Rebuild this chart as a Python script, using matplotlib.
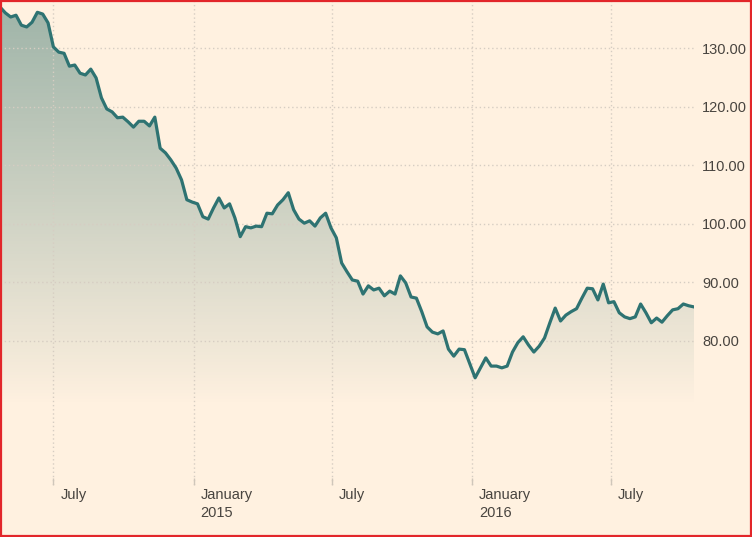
import numpy as np
import pandas as pd
import matplotlib
matplotlib.use('Agg')
import matplotlib.pyplot as plt
import matplotlib.dates as mdates
import matplotlib.transforms as mtransforms
from matplotlib.patches import Rectangle

# weekly index values
start_date = '2014-04-22'
values = [
    137.0, 136.0, 135.3, 135.6, 133.9, 133.6, 134.4, 136.1, 135.8, 134.3,
    130.2, 129.3, 129.1, 126.9, 127.1, 125.7, 125.4, 126.4, 124.9, 121.5,
    119.6, 119.1, 118.1, 118.2, 117.4, 116.5, 117.5, 117.5, 116.7, 118.2,
    112.9, 112.1, 110.9, 109.5, 107.5, 104.1, 103.7, 103.4, 101.2, 100.8,
    102.7, 104.4, 102.7, 103.4, 101.0, 97.8, 99.5, 99.3, 99.6, 99.5,
    101.8, 101.7, 103.2, 104.1, 105.3, 102.4, 100.8, 100.1, 100.5, 99.6,
    101.0, 101.8, 99.3, 97.6, 93.3, 91.8, 90.4, 90.2, 88.0, 89.4,
    88.7, 89.0, 87.7, 88.5, 88.0, 91.1, 89.9, 87.5, 87.3, 85.0,
    82.4, 81.5, 81.2, 81.7, 78.6, 77.4, 78.6, 78.5, 76.1, 73.7,
    75.4, 77.1, 75.7, 75.7, 75.4, 75.7, 78.1, 79.7, 80.7, 79.3,
    78.1, 79.1, 80.5, 83.1, 85.6, 83.4, 84.4, 85.0, 85.5, 87.3,
    89.0, 88.9, 87.0, 89.7, 86.5, 86.7, 84.8, 84.1, 83.8, 84.1,
    86.3, 84.8, 83.1, 83.9, 83.2, 84.3, 85.3, 85.5, 86.3, 86.0,
    85.8,
]
dates = pd.date_range(start_date, periods=len(values), freq='7D')

tick_dates = pd.to_datetime(['2014-07-01', '2015-01-01', '2015-07-01', '2016-01-01', '2016-07-01'])
tick_labels = ['July', 'January\n2015', 'July', 'January\n2016', 'July']
y_ticks = [80, 90, 100, 110, 120, 130]

bg = '#fff1e0'
line_color = '#2e7372'
text_color = '#48443f'
grid_color = '#d6cdc2'
y_min, y_max = 55.4, 138.2

plt.rcParams['font.family'] = ['Liberation Sans', 'DejaVu Sans']

fig = plt.figure(figsize=(7.52, 5.37), dpi=100, facecolor=bg)
ax = fig.add_axes([0, 1 - 485 / 537, 694 / 752, 485 / 537])
ax.set_facecolor(bg)

# gradient fill under the line, fading out near the 70 level
poly = ax.fill_between(dates, values, y_min, color='none', lw=0)
ys = np.linspace(y_max, y_min, 300)
alpha = np.clip((ys - 69) / (138 - 69), 0, 1) ** 0.95 * 0.46
img = np.zeros((300, 1, 4))
img[..., 0] = 0.17
img[..., 1] = 0.42
img[..., 2] = 0.40
img[..., 3] = alpha[:, None]
x0 = mdates.date2num(dates[0])
x1 = mdates.date2num(dates[-1])
im = ax.imshow(img, extent=[x0, x1, y_min, y_max], aspect='auto', origin='upper', zorder=1)
im.set_clip_path(poly.get_paths()[0], transform=ax.transData)

ax.plot(dates, values, color=line_color, lw=2.3, zorder=3, solid_joinstyle='round')

ax.set_xlim(dates[0], dates[-1])
ax.set_ylim(y_min, y_max)

ax.set_yticks(y_ticks)
ax.set_yticklabels([f'{v:.2f}' for v in y_ticks])
ax.yaxis.tick_right()
ax.tick_params(axis='y', length=0, pad=6, labelsize=10.5, labelcolor=text_color)

ax.set_xticks(tick_dates)
ax.set_xticklabels(tick_labels, ha='left', linespacing=1.35)
ax.tick_params(axis='x', direction='in', length=5, width=1, color='#cfc6ba',
               pad=2, labelsize=10.5, labelcolor=text_color)
offset = mtransforms.ScaledTranslation(7 / 100, 0, fig.dpi_scale_trans)
for lab in ax.get_xticklabels():
    lab.set_transform(lab.get_transform() + offset)

ax.grid(True, color=grid_color, linestyle=(0, (1, 2)), lw=1, zorder=2)
for s in ax.spines.values():
    s.set_visible(False)

fig.patches.append(Rectangle((0.001, 0.001), 0.998, 0.997, transform=fig.transFigure,
                             fill=False, edgecolor='#e2262a', lw=1.6, zorder=10))

fig.savefig('out.png', dpi=100, facecolor=bg)
